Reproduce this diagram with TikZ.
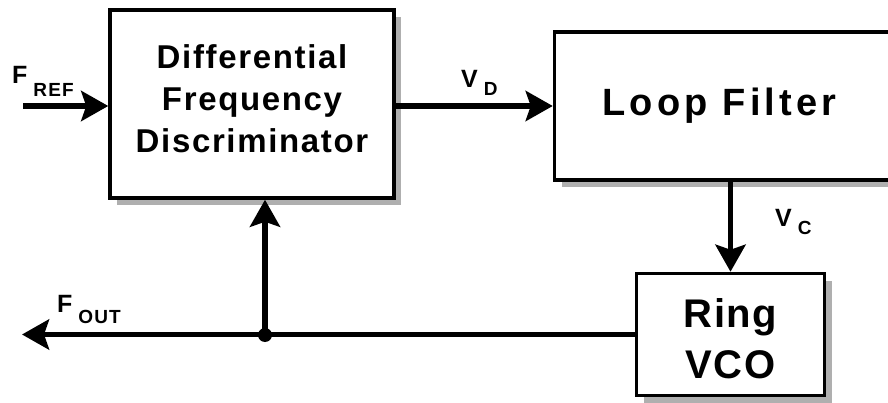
\documentclass[tikz,border=0pt]{standalone}
\usepackage{fontspec}
\setmainfont{Liberation Sans}
\usepackage{xcolor}
\definecolor{ShadowGray}{RGB}{175,175,175}
\usepackage{tikz}
\usetikzlibrary{arrows.meta, positioning, calc, shadows}
% signal name with lowered index
\newcommand{\sig}[3][10pt]{#2\kern6pt\raisebox{-#1}{\fontsize{19}{19}\selectfont\addfontfeatures{LetterSpace=6}#3}}
\tikzset{
  % Block with grey drop shadow
  block/.style={
    rectangle, draw=black, line width=3.5pt, fill=white,
    align=center, inner sep=0pt,
    drop shadow={shadow xshift=7pt, shadow yshift=-7pt, fill=ShadowGray, opacity=1}
  },
  % Arrows
  arr/.style={-{Stealth[length=27pt,width=30pt,inset=5pt]}, line width=5.8pt},
  % Signal label
  siglabel/.style={font=\bfseries\fontsize{25}{25}\selectfont, inner sep=0pt, anchor=base west},
}
\begin{document}
\begin{tikzpicture}[x=1pt, y=-1pt]
  \useasboundingbox (0,0) rectangle (888,403);

  \node[block, minimum width=284pt, minimum height=188pt,
        font={\bfseries\fontsize{33}{42}\selectfont\addfontfeatures{LetterSpace=5}}]
    (dfd) at (252,104) {Differential\\Frequency\\Discriminator\rule[-10pt]{0pt}{10pt}};

  \node[block, minimum width=352pt, minimum height=148pt, right=157pt of dfd, yshift=-2pt,
        font={\bfseries\fontsize{38}{38}\selectfont\addfontfeatures{LetterSpace=11}}]
    (lf) {Loop Filter\hspace*{22pt}};

  \node[block, minimum width=188pt, minimum height=122pt, below=90pt of lf,
        font={\bfseries\fontsize{40}{51}\selectfont\addfontfeatures{LetterSpace=4}}]
    (vco) {\rule{0pt}{38pt}Ring\\VCO};

  \coordinate (fin) at (23,106);
  \coordinate (fout) at (22,335);
  \coordinate (tap) at (265,335);

  \node[siglabel] (fref) at (12,84) {\sig[13pt]{F}{REF}};
  \node[siglabel] (vd) at (461,88) {\sig[8pt]{V}{D}};
  \node[siglabel] (vc) at (775,227) {\sig[8pt]{V}{C}};
  \node[siglabel] (fo) at (57,312) {\sig[11pt]{F}{OUT}};

  %% Arrows
  \draw[arr] (fin) -- (fin -| dfd.west);
  \draw[arr] (dfd.east |- lf.west) -- (lf.west);
  \draw[arr] (lf.south) -- (vco.north);
  \draw[arr] (vco.west) -- (vco.west -| fout);
  \draw[arr] (tap) -- (tap |- dfd.south);
  \fill (tap) circle (7pt);

\end{tikzpicture}
\end{document}
